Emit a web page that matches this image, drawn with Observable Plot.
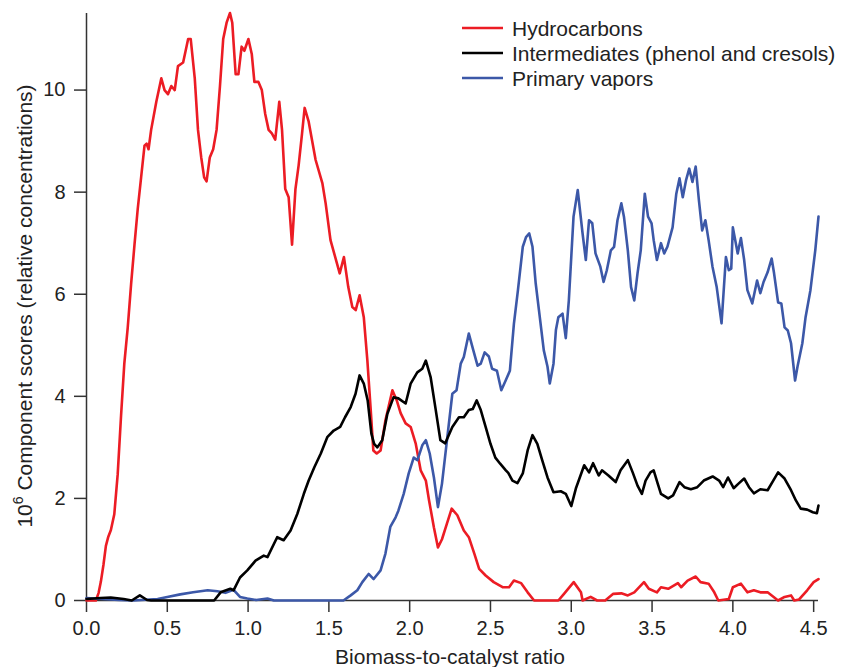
<!DOCTYPE html>
<html><head><meta charset="utf-8">
<script src="https://cdn.jsdelivr.net/npm/d3@7"></script>
<script src="https://cdn.jsdelivr.net/npm/@observablehq/plot@0.6"></script>
<style>body{margin:0;background:#fff}</style>
</head><body><div id="chart"></div>
<script>
const seriesNames = ["Hydrocarbons", "Intermediates (phenol and cresols)", "Primary vapors"];
const seriesColors = ["#ec1c24", "#000000", "#3c58a8"];
const xTicks = [0, 0.5, 1.0, 1.5, 2.0, 2.5, 3.0, 3.5, 4.0, 4.5];
const yTicks = [0, 2, 4, 6, 8, 10];

const hydroX = [0,0.03,0.058,0.075,0.089,0.105,0.12,0.135,0.151,0.172,0.193,0.214,0.234,0.255,0.276,0.297,0.317,0.338,0.359,0.372,0.384,0.40,0.432,0.463,0.483,0.504,0.525,0.546,0.566,0.598,0.629,0.645,0.67,0.69,0.71,0.728,0.743,0.763,0.784,0.805,0.826,0.846,0.867,0.888,0.902,0.923,0.94,0.96,0.977,1.002,1.023,1.039,1.064,1.085,1.106,1.127,1.147,1.168,1.193,1.21,1.23,1.251,1.272,1.293,1.313,1.334,1.35,1.375,1.418,1.46,1.48,1.51,1.567,1.593,1.62,1.645,1.666,1.69,1.716,1.738,1.759,1.775,1.796,1.82,1.85,1.893,1.92,1.944,1.975,2.006,2.037,2.068,2.1,2.12,2.15,2.175,2.2,2.23,2.26,2.295,2.335,2.366,2.4,2.43,2.47,2.52,2.575,2.615,2.645,2.69,2.73,2.77,2.92,2.955,3.015,3.06,3.07,3.12,3.16,3.21,3.26,3.31,3.35,3.39,3.45,3.48,3.53,3.555,3.6,3.66,3.68,3.72,3.77,3.8,3.85,3.885,3.91,3.975,4.0,4.05,4.09,4.13,4.17,4.215,4.28,4.32,4.36,4.38,4.41,4.46,4.5,4.53];
const hydroY = [0,0,0,0.15,0.37,0.7,1.07,1.25,1.38,1.69,2.47,3.63,4.64,5.34,6.2,6.97,7.67,8.29,8.91,8.95,8.84,9.22,9.77,10.23,10.0,9.92,10.08,10.0,10.47,10.54,11.0,11.0,10.23,9.22,8.68,8.29,8.21,8.68,8.84,9.22,10.08,11.0,11.32,11.51,11.32,10.31,10.31,10.85,10.77,11.0,10.7,10.16,10.16,10.0,9.53,9.22,9.15,9.03,9.77,9.22,8.06,7.9,6.97,8.06,8.53,9.15,9.65,9.38,8.63,8.17,7.78,7.06,6.41,6.73,6.14,5.75,5.69,5.98,5.55,4.71,3.73,2.94,2.88,2.94,3.53,4.12,3.92,3.67,3.47,3.4,3.08,2.55,2.35,1.96,1.43,1.04,1.2,1.5,1.8,1.67,1.37,1.24,0.92,0.62,0.49,0.36,0.26,0.26,0.39,0.34,0.16,0,0,0.13,0.36,0.16,0,0.07,0,0,0.13,0.14,0.1,0.16,0.36,0.23,0.16,0.26,0.23,0.34,0.26,0.39,0.47,0.36,0.33,0.16,0,0.03,0.26,0.33,0.16,0.2,0.16,0.16,0,0.07,0.1,0,0.02,0.2,0.36,0.42];

const interX = [0,0.087,0.15,0.23,0.28,0.33,0.375,0.4,0.79,0.83,0.89,0.91,0.95,0.995,1.046,1.097,1.12,1.18,1.22,1.263,1.305,1.345,1.375,1.41,1.45,1.49,1.53,1.57,1.6,1.635,1.665,1.69,1.716,1.74,1.763,1.78,1.8,1.83,1.862,1.9,1.93,1.975,2.006,2.047,2.078,2.1,2.13,2.16,2.19,2.22,2.264,2.305,2.335,2.366,2.39,2.415,2.44,2.47,2.5,2.53,2.56,2.595,2.61,2.636,2.667,2.7,2.73,2.76,2.79,2.82,2.853,2.89,2.935,2.966,3.0,3.03,3.08,3.11,3.135,3.17,3.19,3.23,3.275,3.305,3.35,3.38,3.41,3.437,3.46,3.49,3.51,3.535,3.555,3.6,3.63,3.67,3.7,3.74,3.78,3.82,3.875,3.915,3.94,3.97,4.005,4.035,4.07,4.1,4.13,4.17,4.215,4.25,4.28,4.32,4.36,4.39,4.42,4.46,4.495,4.52,4.53];
const interY = [0.03,0.05,0.06,0.03,0,0.1,0.01,0,0,0.16,0.23,0.2,0.45,0.59,0.78,0.88,0.85,1.24,1.18,1.37,1.7,2.09,2.35,2.61,2.88,3.2,3.33,3.4,3.59,3.79,4.05,4.41,4.25,3.92,3.27,3.07,3.0,3.14,3.66,3.98,3.96,3.86,4.25,4.47,4.54,4.7,4.37,3.76,3.14,3.08,3.4,3.59,3.59,3.73,3.75,3.92,3.73,3.4,3.07,2.8,2.68,2.55,2.5,2.35,2.3,2.49,2.94,3.24,3.07,2.75,2.41,2.12,2.14,2.09,1.85,2.21,2.65,2.51,2.69,2.45,2.55,2.45,2.32,2.55,2.75,2.51,2.25,2.09,2.35,2.51,2.55,2.29,2.09,2.0,2.06,2.32,2.22,2.18,2.22,2.35,2.43,2.35,2.22,2.41,2.2,2.29,2.39,2.22,2.1,2.18,2.16,2.35,2.51,2.39,2.16,1.96,1.8,1.78,1.73,1.71,1.86];

const primX = [0,0.1,0.2,0.29,0.44,0.5,0.58,0.66,0.75,0.81,0.86,0.91,0.95,0.995,1.05,1.12,1.16,1.59,1.635,1.676,1.707,1.746,1.777,1.82,1.85,1.88,1.913,1.93,1.963,1.994,2.025,2.048,2.078,2.1,2.124,2.15,2.175,2.2,2.233,2.264,2.29,2.316,2.335,2.366,2.394,2.42,2.44,2.464,2.49,2.51,2.54,2.567,2.594,2.62,2.645,2.67,2.7,2.72,2.74,2.76,2.78,2.8,2.83,2.853,2.867,2.89,2.905,2.92,2.946,2.966,2.985,3.014,3.04,3.07,3.09,3.11,3.13,3.15,3.18,3.2,3.22,3.245,3.265,3.286,3.31,3.326,3.35,3.37,3.39,3.41,3.43,3.455,3.475,3.497,3.51,3.53,3.555,3.575,3.595,3.627,3.65,3.67,3.69,3.71,3.73,3.75,3.77,3.79,3.81,3.83,3.85,3.874,3.9,3.93,3.957,3.975,3.99,4.0,4.03,4.05,4.07,4.09,4.12,4.15,4.17,4.19,4.215,4.24,4.255,4.28,4.3,4.32,4.34,4.36,4.385,4.4,4.43,4.45,4.48,4.51,4.53];
const primY = [0.05,0.03,0.01,0,0.03,0.07,0.12,0.16,0.2,0.18,0.15,0.21,0.07,0.04,0.01,0.04,0,0,0.1,0.2,0.36,0.52,0.42,0.59,0.92,1.44,1.63,1.76,2.09,2.49,2.8,2.75,3.04,3.14,2.88,2.41,1.83,2.29,3.2,4.05,4.12,4.64,4.77,5.23,4.9,4.6,4.64,4.86,4.78,4.54,4.5,4.12,4.31,4.5,5.42,6.08,6.93,7.12,7.19,6.93,6.21,5.69,4.9,4.58,4.25,4.64,5.3,5.55,5.62,5.14,5.88,7.52,8.04,7.19,6.67,7.45,7.39,6.8,6.54,6.24,6.47,6.86,6.93,7.45,7.78,7.52,6.86,6.14,5.88,6.41,6.86,7.97,7.52,7.39,7.06,6.67,7.0,6.8,6.93,7.31,7.97,8.27,7.9,8.23,8.46,8.2,8.5,7.84,7.25,7.45,7.06,6.54,6.14,5.43,6.73,6.47,6.5,7.31,6.8,7.1,6.67,6.08,5.82,6.27,6.02,6.24,6.43,6.7,6.41,5.84,5.82,5.35,5.29,5.04,4.31,4.58,5.04,5.55,6.08,6.86,7.52];

const toRows = (xs, ys, s) => xs.map((x, i) => ({x, y: ys[i], series: s}));
const hydro = toRows(hydroX, hydroY, seriesNames[0]);
const inter = toRows(interX, interY, seriesNames[1]);
const prim = toRows(primX, primY, seriesNames[2]);

const chart = Plot.plot({
  width: 841,
  height: 667,
  marginTop: 13,
  marginBottom: 67,
  marginLeft: 86,
  marginRight: 23,
  style: {fontFamily: "'Liberation Sans', Arial, sans-serif", fontSize: "20px", color: "#222", background: "#fff"},
  x: {domain: [0, 4.53]},
  y: {domain: [0, 11.5]},
  marks: [
    Plot.axisY({ticks: yTicks, tickSize: 12, tickPadding: 9, label: null, stroke: "#333", strokeWidth: 1.5, fontSize: 20}),
    Plot.axisX({ticks: xTicks, tickFormat: d => d.toFixed(1), tickSize: 12, tickPadding: 8, label: null, stroke: "#333", strokeWidth: 1.5, fontSize: 20}),
    Plot.ruleX([0], {stroke: "#333", strokeWidth: 1.5}),
    Plot.ruleY([0], {stroke: "#333", strokeWidth: 1.5}),
    Plot.line(hydro, {x: "x", y: "y", stroke: seriesColors[0], strokeWidth: 2.6}),
    Plot.line(prim, {x: "x", y: "y", stroke: seriesColors[2], strokeWidth: 2.6}),
    Plot.line(inter, {x: "x", y: "y", stroke: seriesColors[1], strokeWidth: 2.6})
  ]
});

const svg = d3.select(chart);
svg.append("text")
  .attr("x", 450).attr("y", 664)
  .attr("text-anchor", "middle")
  .attr("font-size", 21).attr("fill", "#222")
  .text("Biomass-to-catalyst ratio");

const yl = svg.append("text")
  .attr("transform", "translate(32,306) rotate(-90)")
  .attr("text-anchor", "middle")
  .attr("font-size", 21).attr("fill", "#222");
yl.append("tspan").text("10");
yl.append("tspan").attr("font-size", 14).attr("dy", -9).text("6");
yl.append("tspan").attr("dy", 9).text(" Component scores (relative concentrations)");

const leg = svg.append("g");
seriesNames.forEach((name, i) => {
  const yy = 28 + i * 25;
  leg.append("line").attr("x1", 462).attr("x2", 503).attr("y1", yy).attr("y2", yy)
    .attr("stroke", seriesColors[i]).attr("stroke-width", 2.6);
  leg.append("text").attr("x", 512).attr("y", yy + 7.5)
    .attr("text-anchor", "start")
    .attr("font-size", 21).attr("fill", "#222").text(name);
});

document.getElementById("chart").appendChild(chart);
</script>
</body></html>
